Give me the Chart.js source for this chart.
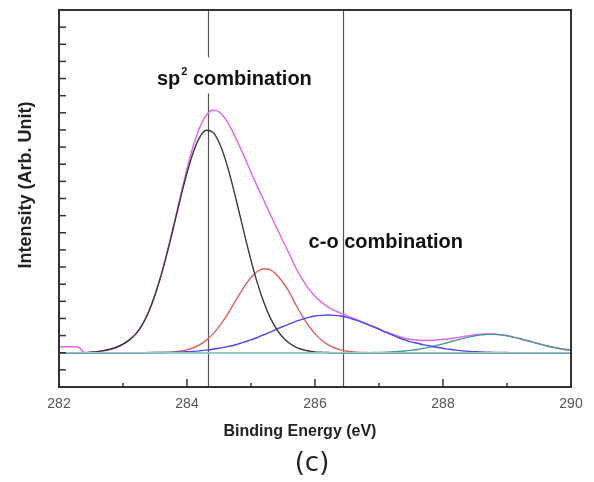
<!DOCTYPE html>
<html>
<head>
<meta charset="utf-8">
<script src="https://cdn.jsdelivr.net/npm/chart.js@4.4.1/dist/chart.umd.min.js"></script>
<style>
  html, body { margin: 0; padding: 0; background: #fff; }
  canvas { display: block; }
</style>
</head>
<body>
<canvas id="xps" width="594" height="482"></canvas>
<script>
// binding energy grid (eV), 0.1 step
const energy = [];
for (let i = 0; i <= 80; i++) energy.push(+(282 + i * 0.1).toFixed(1));

// values (arb. units), one per energy point
const sp2Peak = [
  0, 0, 0, 0, 0, 0.03, 0.06, 0.12, 0.20, 0.32,
  0.50, 0.75, 1.10, 1.62, 2.38, 3.37, 4.57, 5.97, 7.49, 9.04,
  10.50, 11.72, 12.58, 12.98, 12.88, 12.28, 11.27, 9.94, 8.43, 6.88,
  5.39, 4.06, 2.95, 2.05, 1.38, 0.89, 0.55, 0.33, 0.19, 0.10,
  0.05, 0.03, 0.01, 0, 0, 0, 0, 0, 0, 0,
  0, 0, 0, 0, 0, 0, 0, 0, 0, 0,
  0, 0, 0, 0, 0, 0, 0, 0, 0, 0,
  0, 0, 0, 0, 0, 0, 0, 0, 0, 0, 0
];
const redPeak = [
  0, 0, 0, 0, 0, 0, 0, 0, 0, 0,
  0, 0, 0, 0, 0, 0.01, 0.01, 0.03, 0.05, 0.10,
  0.17, 0.29, 0.47, 0.72, 1.07, 1.52, 2.05, 2.66, 3.29, 3.89,
  4.39, 4.74, 4.90, 4.83, 4.55, 4.10, 3.53, 2.80, 2.15, 1.58,
  1.10, 0.74, 0.47, 0.29, 0.17, 0.09, 0.05, 0.02, 0.01, 0,
  0, 0, 0, 0, 0, 0, 0, 0, 0, 0,
  0, 0, 0, 0, 0, 0, 0, 0, 0, 0,
  0, 0, 0, 0, 0, 0, 0, 0, 0, 0, 0
];
const coPeak = [
  0, 0, 0, 0, 0, 0, 0, 0, 0, 0,
  0, 0, 0, 0, 0.01, 0.01, 0.01, 0.02, 0.03, 0.04,
  0.06, 0.08, 0.11, 0.15, 0.20, 0.26, 0.33, 0.41, 0.51, 0.63,
  0.75, 0.89, 1.05, 1.20, 1.37, 1.53, 1.68, 1.83, 1.95, 2.06,
  2.14, 2.18, 2.20, 2.18, 2.14, 2.06, 1.95, 1.83, 1.68, 1.53,
  1.37, 1.20, 1.05, 0.89, 0.75, 0.63, 0.55, 0.46, 0.39, 0.32,
  0.26, 0.20, 0.15, 0.11, 0.08, 0.06, 0.04, 0.03, 0.02, 0.01,
  0.01, 0, 0, 0, 0, 0, 0, 0, 0, 0, 0
];
const highPeak = [
  0, 0, 0, 0, 0, 0, 0, 0, 0, 0,
  0, 0, 0, 0, 0, 0, 0, 0, 0, 0,
  0, 0, 0, 0, 0, 0, 0, 0, 0, 0,
  0, 0, 0, 0, 0, 0, 0, 0, 0, 0,
  0, 0, 0, 0, 0, 0, 0, 0, 0, 0.01,
  0.02, 0.03, 0.05, 0.07, 0.10, 0.14, 0.19, 0.26, 0.33, 0.42,
  0.52, 0.62, 0.72, 0.82, 0.91, 0.99, 1.04, 1.07, 1.07, 1.04,
  0.99, 0.91, 0.82, 0.72, 0.62, 0.52, 0.42, 0.33, 0.26, 0.19, 0.14
];
const envelope = [
  0.35, 0.35, 0.35, 0.33, 0.01, 0.03, 0.06, 0.12, 0.20, 0.32,
  0.50, 0.75, 1.10, 1.63, 2.39, 3.39, 4.59, 6.02, 7.57, 9.18,
  10.73, 12.09, 13.16, 13.85, 14.15, 14.06, 13.65, 13.01, 12.23, 11.40,
  10.53, 9.69, 8.90, 8.08, 7.30, 6.52, 5.76, 4.96, 4.29, 3.74,
  3.29, 2.95, 2.68, 2.47, 2.31, 2.15, 2.00, 1.85, 1.69, 1.54,
  1.39, 1.23, 1.10, 0.96, 0.85, 0.77, 0.74, 0.72, 0.72, 0.74,
  0.78, 0.82, 0.87, 0.93, 0.99, 1.05, 1.08, 1.10, 1.09, 1.05,
  1.00, 0.91, 0.82, 0.72, 0.62, 0.52, 0.42, 0.33, 0.26, 0.20, 0.17
];
const baseline = energy.map(() => 0);

// peak position markers (eV)
const markerLines = [284.33, 286.44];
const xTickValues = [282, 283, 284, 285, 286, 287, 288, 289, 290];

const toPoints = (vals) => energy.map((e, i) => ({ x: e, y: vals[i] }));

const line = (label, vals, color, width) => ({
  label: label,
  data: toPoints(vals),
  borderColor: color,
  borderWidth: width || 1.4,
  pointRadius: 0,
  fill: false,
  cubicInterpolationMode: 'monotone',
});

const framePlugin = {
  id: 'frame',
  beforeDatasetsDraw(chart) {
    const { ctx, chartArea: a, scales: { x } } = chart;
    ctx.save();
    ctx.strokeStyle = '#555';
    ctx.lineWidth = 1.2;
    markerLines.forEach((v) => {
      const px = Math.round(x.getPixelForValue(v)) + 0.5;
      ctx.beginPath();
      ctx.moveTo(px, a.top);
      ctx.lineTo(px, a.bottom);
      ctx.stroke();
    });
    ctx.restore();
  },
  afterDatasetsDraw(chart) {
    const { ctx, chartArea: a, scales: { x, y } } = chart;
    ctx.save();

    // box
    ctx.strokeStyle = '#333';
    ctx.lineWidth = 2;
    ctx.strokeRect(a.left, a.top, a.right - a.left, a.bottom - a.top);

    // inward ticks
    ctx.lineWidth = 1.5;
    xTickValues.forEach((v) => {
      const px = x.getPixelForValue(v);
      const len = v % 2 === 0 ? 8 : 4;
      ctx.beginPath();
      ctx.moveTo(px, a.bottom);
      ctx.lineTo(px, a.bottom - len);
      ctx.stroke();
    });
    y.ticks.forEach((t) => {
      const py = y.getPixelForValue(t.value);
      ctx.beginPath();
      ctx.moveTo(a.left, py);
      ctx.lineTo(a.left + 7, py);
      ctx.stroke();
    });

    // annotations
    ctx.fillStyle = '#111';
    ctx.textBaseline = 'alphabetic';
    ctx.textAlign = 'left';
    const bold = (s) => 'bold ' + s + 'px "Liberation Sans", Arial, sans-serif';

    const sx = x.getPixelForValue(283.53);
    const sy = y.getPixelForValue(15.6);
    ctx.font = bold(20);
    const w1 = ctx.measureText('sp').width;
    ctx.font = bold(11);
    const w2 = ctx.measureText('2').width;
    ctx.font = bold(20);
    const w3 = ctx.measureText(' combination').width;
    ctx.fillStyle = '#fff';
    ctx.fillRect(sx - 2, sy - 28, w1 + w2 + w3 + 4, 36);
    ctx.fillStyle = '#111';
    ctx.fillText('sp', sx, sy);
    ctx.font = bold(11);
    ctx.fillText('2', sx + w1 + 1, sy - 10);
    ctx.font = bold(20);
    ctx.fillText(' combination', sx + w1 + w2 + 1, sy);

    ctx.fillText('c-o combination', x.getPixelForValue(285.9), y.getPixelForValue(6.1));

    // axis titles
    ctx.textAlign = 'center';
    ctx.textBaseline = 'middle';
    ctx.font = bold(16);
    ctx.fillStyle = '#222';
    ctx.fillText('Binding Energy (eV)', 300, 432);

    ctx.save();
    ctx.translate(26, 185);
    ctx.rotate(-Math.PI / 2);
    ctx.font = bold(18);
    ctx.fillText('Intensity (Arb. Unit)', 0, 0);
    ctx.restore();

    ctx.font = '26px "DejaVu Sans", sans-serif';
    ctx.fillStyle = '#222';
    ctx.fillText('(c)', 312, 464);
    ctx.restore();
  },
};

const ctx = document.getElementById('xps').getContext('2d');
new Chart(ctx, {
  type: 'line',
  data: {
    datasets: [
      line('Baseline', baseline, '#8fcbcc', 1.5),
      line('sp2', sp2Peak, '#3a3a3a'),
      line('C-O', coPeak, '#4a4ae6'),
      line('C=O', redPeak, '#e2605c'),
      line('O-C=O', highPeak, '#3f9a9a'),
      line('Envelope', envelope, '#e468ec', 1.5),
    ],
  },
  options: {
    responsive: false,
    animation: false,
    layout: { padding: { top: 10, right: 23, left: 0, bottom: 0 } },
    plugins: { legend: { display: false }, tooltip: { enabled: false } },
    scales: {
      x: {
        type: 'linear',
        min: 282,
        max: 290,
        grid: { display: false },
        border: { display: false },
        ticks: {
          stepSize: 1,
          autoSkip: false,
          maxRotation: 0,
          padding: 1,
          color: '#555',
          font: { family: '"Liberation Sans", Arial, sans-serif', size: 14 },
          callback: (v) => (v % 2 === 0 ? String(v) : ''),
        },
        afterFit: (s) => { s.height = 95; },
      },
      y: {
        min: -2,
        max: 20,
        grid: { display: false },
        border: { display: false },
        ticks: { display: false, stepSize: 1 },
        afterFit: (s) => { s.width = 59; },
      },
    },
  },
  plugins: [framePlugin],
});
</script>
</body>
</html>
